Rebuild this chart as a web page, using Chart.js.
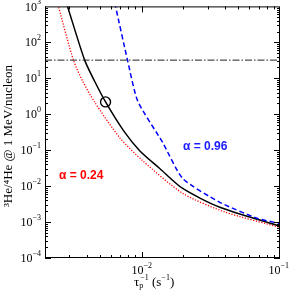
<!DOCTYPE html>
<html><head><meta charset="utf-8">
<script src="https://cdn.jsdelivr.net/npm/chart.js@4"></script>
<style>html,body{margin:0;padding:0;background:#fff}#wrap{width:290px;height:294px}</style>
</head><body><div id="wrap"><canvas id="c" width="290" height="294"></canvas></div>
<script>
// ---- data ----
const blackX = [2.46e-3, 2.91e-3, 3.87e-3, 4.56e-3, 5.48e-3, 7.39e-3, 9.67e-3, 0.0135, 0.0198, 0.0367, 0.1];
const blackY = [7700, 1000, 32, 8.4, 2.2, 0.35, 0.097, 0.031, 0.0086, 0.00258, 7.7e-4];
const redX = [2.19e-3, 2.5e-3, 3.21e-3, 3.74e-3, 4.56e-3, 6.93e-3, 0.01016, 0.0198, 0.04, 0.1];
const redY = [6300, 1000, 32, 8.4, 2.2, 0.223, 0.051, 0.0063, 0.0019, 7.1e-4];
const blueX = [5.86e-3, 6.47e-3, 7.9e-3, 9.35e-3, 0.0142, 0.0198, 0.0367, 0.069, 0.1];
const blueY = [5580, 1000, 32, 2.35, 0.162, 0.0163, 0.00354, 0.00126, 9.1e-4];
const refX = [2e-3, 0.1];
const refY = [32, 32];
const markX = [5.48e-3];
const markY = [2.2];
const yTickVals = [1e-4, 1e-3, 1e-2, 1e-1, 1, 10, 100, 1000];
const yTickExps = ['\u22124', '\u22123', '\u22122', '\u22121', '0', '1', '2', '3'];
const xTickVals = [1e-2, 1e-1];
const xTickExps = ['\u22122', '\u22121'];
const labelRed = '\u03b1 = 0.24';
const labelBlue = '\u03b1 = 0.96';

const pts = (xs, ys) => xs.map((x, i) => ({x: x, y: ys[i]}));

const serif = '"Liberation Serif", "DejaVu Serif", serif';
const sans = '"Liberation Sans", Arial, sans-serif';

const deco = {
  id: 'deco',
  afterDatasetsDraw(chart) {
    const ctx = chart.ctx, a = chart.chartArea;
    const xs = chart.scales.x, ys = chart.scales.y;
    ctx.save();
    ctx.strokeStyle = '#000'; ctx.lineWidth = 1;
    ctx.strokeRect(a.left + 0.5, a.top + 0.5, a.right - a.left - 1, a.bottom - a.top - 1);
    ctx.beginPath();
    for (let e = -4; e < 3; e++) {
      for (let m = 1; m <= 9; m++) {
        const v = m * Math.pow(10, e);
        const p = Math.round(ys.getPixelForValue(v)) + 0.5;
        const L = m === 1 ? 6 : 3;
        ctx.moveTo(a.left, p); ctx.lineTo(a.left + L, p);
        ctx.moveTo(a.right, p); ctx.lineTo(a.right - L, p);
      }
    }
    for (let e = -3; e < -1; e++) {
      for (let m = 1; m <= 9; m++) {
        const v = m * Math.pow(10, e);
        if (v < 2e-3) continue;
        const p = Math.round(xs.getPixelForValue(v)) + 0.5;
        const L = m === 1 ? 6 : 3;
        ctx.moveTo(p, a.bottom); ctx.lineTo(p, a.bottom - L);
        ctx.moveTo(p, a.top); ctx.lineTo(p, a.top + L);
      }
    }
    ctx.stroke();
    ctx.fillStyle = '#000';
    ctx.textBaseline = 'middle';
    yTickVals.forEach((v, i) => {
      const p = ys.getPixelForValue(v);
      ctx.font = '8px ' + serif;
      const ew = ctx.measureText(yTickExps[i]).width;
      ctx.textAlign = 'left';
      const right = 41;
      ctx.fillText(yTickExps[i], right - ew, p - 4);
      ctx.font = '12px ' + serif;
      ctx.textAlign = 'right';
      ctx.fillText('10', right - ew, p + 1);
    });
    xTickVals.forEach((v, i) => {
      const p = xs.getPixelForValue(v);
      ctx.font = '12px ' + serif;
      const bw = ctx.measureText('10').width;
      ctx.font = '8px ' + serif;
      const ew = ctx.measureText(xTickExps[i]).width;
      let x0 = p - (bw + ew) / 2;
      if (x0 + bw + ew > 289) x0 = 289 - bw - ew;
      ctx.textAlign = 'left';
      ctx.font = '12px ' + serif;
      ctx.fillText('10', x0, 271);
      ctx.font = '8px ' + serif;
      ctx.fillText(xTickExps[i], x0 + bw, 266);
    });
    ctx.textAlign = 'left';
    let x = 134;
    const seg = (t, f, dy) => { ctx.font = f; ctx.fillText(t, x, 283 + dy); x += ctx.measureText(t).width; };
    seg('\u03c4', '13px ' + serif, 0);
    const xs0 = x;
    seg('p', '8px ' + serif, 3);
    x = xs0 + 1;
    seg('\u22121', '8px ' + serif, -5);
    seg(' (s', '13px ' + serif, 0);
    seg('\u22121', '8px ' + serif, -5);
    seg(')', '13px ' + serif, 0);
    ctx.save();
    ctx.translate(9, 136);
    ctx.rotate(-Math.PI / 2);
    ctx.textAlign = 'center';
    ctx.font = '13px ' + serif;
    ctx.fillText('\u00b3He/\u2074He @ 1 MeV/nucleon', 0, 0);
    ctx.restore();
    ctx.font = 'bold 12px ' + sans;
    ctx.textAlign = 'left';
    ctx.fillStyle = '#ff0000';
    ctx.fillText(labelRed, 59, 176);
    ctx.fillStyle = '#1a1aff';
    ctx.fillText(labelBlue, 183, 147);
    ctx.restore();
  }
};

new Chart(document.getElementById('c'), {
  type: 'scatter',
  data: {
    datasets: [
      {data: pts(refX, refY), showLine: true, borderColor: '#222', borderWidth: 1, borderDash: [7, 2, 1.5, 2], pointRadius: 0, clip: 0},
      {data: pts(redX, redY), showLine: true, borderColor: '#ff0000', borderWidth: 1.3, borderDash: [1.2, 1.6], pointRadius: 0, tension: 0.25, clip: 0},
      {data: pts(blueX, blueY), showLine: true, borderColor: '#0000ff', borderWidth: 1.5, borderDash: [5, 3], pointRadius: 0, tension: 0.2, clip: 0},
      {data: pts(blackX, blackY), showLine: true, borderColor: '#000', borderWidth: 1.5, pointRadius: 0, tension: 0.25, clip: 0},
      {data: pts(markX, markY), showLine: false, pointRadius: 5, pointBorderColor: '#000', pointBackgroundColor: 'rgba(0,0,0,0)', pointBorderWidth: 1.4, clip: 0}
    ]
  },
  options: {
    responsive: false,
    animation: false,
    devicePixelRatio: 1,
    layout: {padding: {left: 45, right: 10, top: 5, bottom: 36}},
    plugins: {legend: {display: false}, tooltip: {enabled: false}},
    events: [],
    scales: {
      x: {type: 'logarithmic', min: 2e-3, max: 0.1, display: false},
      y: {type: 'logarithmic', min: 1e-4, max: 1e3, display: false}
    }
  },
  plugins: [deco]
});
</script>
</body></html>
